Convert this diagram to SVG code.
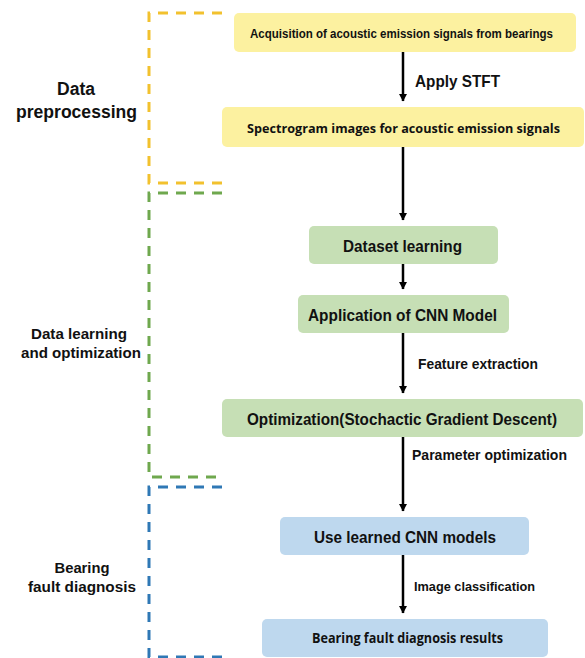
<svg xmlns="http://www.w3.org/2000/svg" width="585" height="658" viewBox="0 0 585 658">
<style>
.t{font-family:"Liberation Sans",Arial,sans-serif;font-weight:bold;fill:#111}
.o{font-family:"Open Sans","Liberation Sans",sans-serif;font-weight:bold;fill:#111}
.m{text-anchor:middle}
.br{fill:none;stroke-width:3;stroke-dasharray:10 8}
.y{fill:#FCF1A0}
.g{fill:#C6DFB5}
.b{fill:#BED8EE}
.ar{stroke:#000;stroke-width:2.5;fill:none;marker-end:url(#ah)}
</style>
<defs>
<marker id="ah" markerWidth="4" markerHeight="4" refX="3" refY="2" orient="auto" markerUnits="strokeWidth">
<path d="M0,0.3 L3.2,2 L0,3.7 Z" fill="#000"/>
</marker>
</defs>
<rect width="585" height="658" fill="#fff"/>
<g id="brackets">
<path class="br" d="M222,13 H149 V183 H222" stroke="#F2C12E"/>
<path class="br" d="M222,193 H149 V477 H222" stroke="#6FA84E"/>
<path class="br" d="M222,487 H149 V657 H222" stroke="#2F78B5"/>
</g>
<g id="phase-labels">
<text class="t m" x="76" y="95" font-size="18" textLength="38" lengthAdjust="spacingAndGlyphs">Data</text>
<text class="t m" x="76.5" y="118" font-size="18" textLength="121" lengthAdjust="spacingAndGlyphs">preprocessing</text>
<text class="t m" x="79" y="339" font-size="15.5" textLength="96" lengthAdjust="spacingAndGlyphs">Data learning</text>
<text class="t m" x="81" y="358" font-size="15.5" textLength="120" lengthAdjust="spacingAndGlyphs">and optimization</text>
<text class="t m" x="82" y="573" font-size="15.5" textLength="55" lengthAdjust="spacingAndGlyphs">Bearing</text>
<text class="t m" x="82" y="592" font-size="15.5" textLength="108" lengthAdjust="spacingAndGlyphs">fault diagnosis</text>
</g>
<g id="connectors">
<line class="ar" x1="403" y1="52" x2="403" y2="101"/>
<line class="ar" x1="403" y1="147" x2="403" y2="220"/>
<line class="ar" x1="403" y1="264" x2="403" y2="289"/>
<line class="ar" x1="403" y1="333" x2="403" y2="393"/>
<line class="ar" x1="403" y1="437" x2="403" y2="511"/>
<line class="ar" x1="403" y1="555" x2="403" y2="613"/>
<text class="t" x="415" y="87" font-size="17" textLength="85" lengthAdjust="spacingAndGlyphs">Apply STFT</text>
<text class="t" x="418" y="369" font-size="14.5" textLength="120" lengthAdjust="spacingAndGlyphs">Feature extraction</text>
<text class="t" x="412" y="460" font-size="14.5" textLength="155" lengthAdjust="spacingAndGlyphs">Parameter optimization</text>
<text class="t" x="414" y="591" font-size="13.5" textLength="121" lengthAdjust="spacingAndGlyphs">Image classification</text>
</g>
<g id="n1">
<rect class="y" x="234" y="13" width="342" height="39" rx="5"/>
<text class="t m" x="401.5" y="38" font-size="12.5" textLength="303" lengthAdjust="spacingAndGlyphs">Acquisition of acoustic emission signals from bearings</text>
</g>
<g id="n2">
<rect class="y" x="222" y="107" width="362" height="40" rx="5"/>
<text class="o m" x="403.5" y="132.5" font-size="12.5" textLength="313" lengthAdjust="spacingAndGlyphs">Spectrogram images for acoustic emission signals</text>
</g>
<g id="n3">
<rect class="g" x="309" y="226" width="189" height="38" rx="5"/>
<text class="t m" x="402.5" y="251.5" font-size="17" textLength="119" lengthAdjust="spacingAndGlyphs">Dataset learning</text>
</g>
<g id="n4">
<rect class="g" x="298" y="295" width="211" height="38" rx="5"/>
<text class="t m" x="402.5" y="320.5" font-size="17" textLength="189" lengthAdjust="spacingAndGlyphs">Application of CNN Model</text>
</g>
<g id="n5">
<rect class="g" x="222" y="399" width="361" height="38" rx="5"/>
<text class="t m" x="402" y="424.5" font-size="16" textLength="310" lengthAdjust="spacingAndGlyphs">Optimization(Stochactic Gradient Descent)</text>
</g>
<g id="n6">
<rect class="b" x="280" y="517" width="249" height="38" rx="5"/>
<text class="t m" x="405" y="542.5" font-size="17" textLength="182" lengthAdjust="spacingAndGlyphs">Use learned CNN models</text>
</g>
<g id="n7">
<rect class="b" x="262" y="619" width="286" height="38" rx="5"/>
<text class="o m" x="407.5" y="643" font-size="14" textLength="191" lengthAdjust="spacingAndGlyphs">Bearing fault diagnosis results</text>
</g>
</svg>
